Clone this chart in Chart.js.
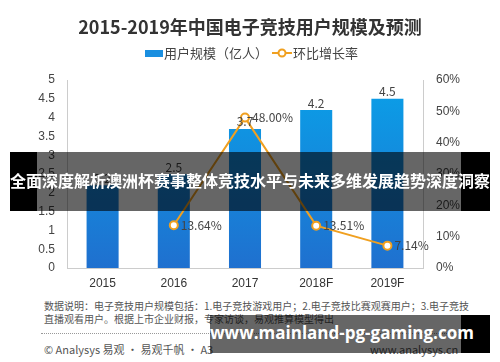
<!DOCTYPE html>
<html>
<head>
<meta charset="utf-8">
<script src="https://cdn.jsdelivr.net/npm/chart.js@4.4.0/dist/chart.umd.min.js"></script>
<style>
  body { margin: 0; background: #fff; font-family: "Noto Sans CJK SC", "Noto Sans", sans-serif; }
  #wrap { position: relative; width: 500px; height: 362px; overflow: hidden; }
  #title { position: absolute; left: 0; top: 13px; width: 500px; text-align: center; font-size: 18px; font-weight: bold; color: #333; }
  #chartBox { position: absolute; left: 0; top: 0; width: 500px; height: 296px; }
  .note { position: absolute; left: 44px; font-size: 10px; color: #555; white-space: nowrap; }
  #dots { position: absolute; left: 41px; top: 333px; width: 420px; border-top: 1px dotted #999; }
  .foot { position: absolute; top: 341px; font-size: 11px; color: #555; white-space: nowrap; }
  .band { position: absolute; background: rgba(0,0,0,0.6); }
  .band .end { position: absolute; top: 0; height: 100%; background: #000; }
  .band span { position: absolute; left: 0; width: 100%; text-align: center; color: #fff; font-weight: bold; white-space: nowrap; }
</style>
</head>
<body>
<div id="wrap">
  <div id="chartBox"><canvas id="userChart" width="500" height="296"></canvas></div>
  <div id="title">2015-2019年中国电子竞技用户规模及预测</div>
  <div class="note" style="top:298px">数据说明：电子竞技用户规模包括：1.电子竞技游戏用户；2.电子竞技比赛观赛用户；3.电子竞技</div>
  <div class="note" style="top:311px">直播观看用户。根据上市企业财报，专家访谈，易观推算模型得出</div>
  <div id="dots"></div>
  <div class="foot" style="left:44px">© Analysys 易观 · 易观千帆 · A3</div>
  <div class="foot" style="left:370px">www.analysys.cn</div>

  <div class="band" style="left:10px; top:152px; width:480px; height:59px;">
    <div class="end" style="left:0; width:27px;"></div>
    <div class="end" style="right:0; width:29px;"></div>
    <span style="top:17px; font-size:16px; line-height:22px;">全面深度解析澳洲杯赛事整体竞技水平与未来多维发展趋势深度洞察</span>
  </div>
  <div class="band" style="left:210px; top:315px; width:280px; height:38px;">
    <div class="end" style="right:0; width:29px;"></div>
    <span style="top:6px; left:-8px; font-size:17px; line-height:24px; font-family:'Open Sans', sans-serif;">www.mainland-pg-gaming.com</span>
  </div>
</div>

<script>
// 数据
const years = ['2015', '2016', '2017', '2018F', '2019F'];
const users = [2.2, 2.5, 3.7, 4.2, 4.5];          // 用户规模（亿人）
const growth = [null, 13.64, 48.00, 13.51, 7.14]; // 环比增长率 %
const growthText = ['', '13.64%', '48.00%', '13.51%', '7.14%'];

const BLUE = '#1a8fe0';
const ORANGE = '#f0a020';

// 图例 + 数据标签
const labelPlugin = {
    id: 'labelPlugin',
    afterDatasetsDraw(chart) {
        const ctx = chart.ctx;
        ctx.save();
        ctx.font = '12px "Noto Sans CJK SC", sans-serif';
        ctx.fillStyle = '#444';
        ctx.textBaseline = 'bottom';
        ctx.textAlign = 'center';
        chart.getDatasetMeta(0).data.forEach((bar, i) => {
            ctx.fillText(String(users[i]), bar.x, bar.y - 1);
        });
        ctx.textAlign = 'left';
        ctx.textBaseline = 'middle';
        chart.getDatasetMeta(1).data.forEach((pt, i) => {
            if (growth[i] === null) return;
            ctx.fillText(growthText[i], pt.x + 7, pt.y);
        });
        ctx.restore();
    },
    afterDraw(chart) {
        const ctx = chart.ctx;
        ctx.save();
        ctx.font = '13px "Noto Sans CJK SC", sans-serif';
        ctx.textBaseline = 'middle';
        const y = 53;
        // 柱状图例
        ctx.fillStyle = BLUE;
        ctx.fillRect(145, y - 3, 18, 7);
        ctx.fillStyle = '#444';
        ctx.fillText(chart.data.datasets[0].label, 164, y);
        // 折线图例
        ctx.strokeStyle = ORANGE;
        ctx.lineWidth = 2;
        ctx.beginPath();
        ctx.moveTo(272, y); ctx.lineTo(292, y);
        ctx.stroke();
        ctx.beginPath();
        ctx.arc(282, y, 3.5, 0, Math.PI * 2);
        ctx.fillStyle = '#fff';
        ctx.fill();
        ctx.stroke();
        ctx.fillStyle = '#444';
        ctx.fillText(chart.data.datasets[1].label, 293, y);
        ctx.restore();
    }
};

function barGradient(context) {
    const area = context.chart.chartArea;
    if (!area) return BLUE;
    const g = context.chart.ctx.createLinearGradient(0, area.top, 0, area.bottom);
    g.addColorStop(0, '#0aa0e8');
    g.addColorStop(1, '#1f70cf');
    return g;
}

new Chart(document.getElementById('userChart'), {
    data: {
        labels: years,
        datasets: [
            {
                type: 'bar',
                label: '用户规模（亿人）',
                data: users,
                yAxisID: 'y',
                backgroundColor: barGradient,
                categoryPercentage: 1,
                barPercentage: 0.45,
                order: 1
            },
            {
                type: 'line',
                label: '环比增长率',
                data: growth,
                yAxisID: 'y1',
                borderColor: ORANGE,
                borderWidth: 2,
                pointRadius: 4,
                pointBorderWidth: 2,
                pointBackgroundColor: '#fff',
                pointBorderColor: ORANGE,
                tension: 0,
                order: 0
            }
        ]
    },
    options: {
        responsive: false,
        animation: false,
        layout: { padding: { top: 80, left: 0, right: 0, bottom: 0 } },
        plugins: {
            legend: { display: false },
            title: { display: false },
            tooltip: { enabled: false }
        },
        scales: {
            x: {
                grid: { display: false, drawTicks: false },
                border: { color: '#ccc' },
                ticks: { color: '#333', font: { size: 12 }, padding: 8, maxRotation: 0 },
                afterFit(s) { s.height = 28; }
            },
            y: {
                position: 'left',
                min: 0, max: 5,
                grid: { display: false, drawTicks: true, tickLength: 4, color: '#ccc' },
                border: { color: '#ccc' },
                ticks: { stepSize: 0.5, color: '#444', font: { size: 12 }, padding: 8, callback: v => String(+v.toFixed(1)) },
                afterFit(s) { s.width = 67; }
            },
            y1: {
                position: 'right',
                min: 0, max: 60,
                grid: { display: false, drawTicks: true, tickLength: 4, color: '#ccc' },
                border: { color: '#ccc' },
                ticks: { stepSize: 10, color: '#444', font: { size: 12 }, padding: 9, callback: v => v + '%' },
                afterFit(s) { s.width = 77; }
            }
        }
    },
    plugins: [labelPlugin]
});
</script>
</body>
</html>
